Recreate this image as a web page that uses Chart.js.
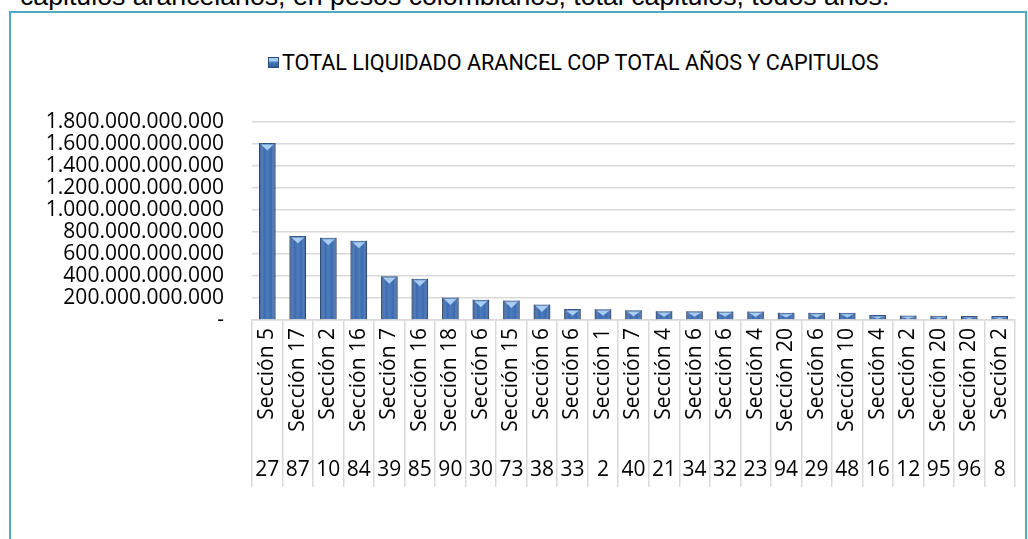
<!DOCTYPE html>
<html>
<head>
<meta charset="utf-8">
<script src="https://cdn.jsdelivr.net/npm/chart.js@4.4.1/dist/chart.umd.min.js"></script>
<style>
    html, body { margin: 0; padding: 0; background: #fff; }
    body { width: 1028px; height: 539px; overflow: hidden; position: relative; }
    #caption {
        position: absolute; left: 20px; top: -17px;
        font: 26.7px 'Liberation Sans', Arial, sans-serif; line-height: 27px;
        color: #000; white-space: nowrap;
    }
    #frame {
        position: absolute; left: 9px; top: 11px; width: 1014px; height: 600px;
        border: 2px solid #4bacc6;
    }
    #legend {
        position: absolute; left: 268px; top: 51px;
        font: 21.6px Roboto, sans-serif; line-height: 24px;
        color: #000; white-space: nowrap;
    }
    #legend .box {
        display: inline-block; width: 9px; height: 9px; margin-right: 3px;
        vertical-align: 2px; border: 1px solid #2a4d7f;
        background: linear-gradient(to bottom, #a9cdf2 0, #a9cdf2 3px, #4a7cc0 4px, #2f5d9c 100%);
    }
    #wrap { position: absolute; left: 0; top: 0; width: 1028px; height: 539px; }
</style>
</head>
<body>
<div id="caption">capitulos arancelarios, en pesos colombianos, total capitulos, todos años.</div>
<div id="frame"></div>
<div id="legend"><span class="box"></span>TOTAL LIQUIDADO ARANCEL COP TOTAL AÑOS Y CAPITULOS</div>
<div id="wrap"><canvas id="chart" width="1028" height="539"></canvas></div>
<script>
// datos
const secciones = ['Sección 5', 'Sección 17', 'Sección 2', 'Sección 16', 'Sección 7', 'Sección 16', 'Sección 18',
    'Sección 6', 'Sección 15', 'Sección 6', 'Sección 6', 'Sección 1', 'Sección 7', 'Sección 4', 'Sección 6',
    'Sección 6', 'Sección 4', 'Sección 20', 'Sección 6', 'Sección 10', 'Sección 4', 'Sección 2', 'Sección 20',
    'Sección 20', 'Sección 2'];
const capitulos = ['27', '87', '10', '84', '39', '85', '90', '30', '73', '38', '33', '2', '40', '21', '34',
    '32', '23', '94', '29', '48', '16', '12', '95', '96', '8'];
const totalLiquidado = [1609000000000, 764000000000, 748000000000, 721000000000, 397000000000, 376000000000,
    204000000000, 185000000000, 178000000000, 140000000000, 100000000000, 98000000000, 88000000000,
    80000000000, 79000000000, 78000000000, 77000000000, 67000000000, 66000000000, 65000000000,
    45000000000, 40000000000, 38000000000, 37000000000, 36000000000];

const tickFont = { family: "'Open Sans', sans-serif", size: 21 };
const gridGrey = '#d9d9d9';

function puntos(v) {
    if (v === 0) return '-';
    return String(v).replace(/\B(?=(\d{3})+(?!\d))/g, '.');
}

// brillo tipo cilindro encima de cada barra
const barShine = {
    id: 'barShine',
    afterDatasetsDraw(chart) {
        const ctx = chart.ctx;
        chart.getDatasetMeta(0).data.forEach(bar => {
            const left = bar.x - bar.width / 2;
            const right = bar.x + bar.width / 2;
            const h = bar.base - bar.y;
            const g = ctx.createLinearGradient(left, 0, right, 0);
            g.addColorStop(0, 'rgba(20,45,90,0.6)');
            g.addColorStop(0.3, 'rgba(255,255,255,0)');
            g.addColorStop(0.5, 'rgba(255,255,255,0.1)');
            g.addColorStop(0.75, 'rgba(255,255,255,0)');
            g.addColorStop(1, 'rgba(20,45,90,0.6)');
            ctx.save();
            ctx.fillStyle = g;
            ctx.fillRect(left, bar.y, bar.width, h);
            const capH = Math.min(6, h / 2);
            ctx.fillStyle = '#a9cdf2';
            ctx.beginPath();
            ctx.moveTo(left + 2, bar.y + 1.5);
            ctx.lineTo(right - 2, bar.y + 1.5);
            ctx.lineTo(bar.x, bar.y + 1.5 + capH);
            ctx.closePath();
            ctx.fill();
            ctx.restore();
        });
    }
};

new Chart(document.getElementById('chart'), {
    type: 'bar',
    data: {
        labels: secciones,
        datasets: [{
            label: 'TOTAL LIQUIDADO ARANCEL COP TOTAL AÑOS Y CAPITULOS',
            data: totalLiquidado,
            backgroundColor: '#3a6cb2',
            borderColor: '#27497a',
            borderWidth: 1,
            barPercentage: 0.54,
            categoryPercentage: 1
        }]
    },
    options: {
        responsive: false,
        devicePixelRatio: 1,
        animation: false,
        layout: { padding: { left: 0, top: 122, right: 13, bottom: 52 } },
        plugins: {
            legend: { display: false },
            tooltip: { enabled: false }
        },
        scales: {
            y: {
                min: 0,
                max: 1800000000000,
                weight: 0,
                ticks: { stepSize: 200000000000, autoSkip: false, padding: 28, color: '#000', font: tickFont, callback: puntos },
                grid: { color: gridGrey, lineWidth: 1.5, drawTicks: false },
                border: { display: false },
                afterFit: s => { s.width = 252; }
            },
            x: {
                offset: true,
                weight: 0,
                grid: { offset: true, drawOnChartArea: false, drawTicks: true, tickLength: 125, color: gridGrey, lineWidth: 1.5 },
                border: { display: true, color: gridGrey, width: 1.5 },
                ticks: { autoSkip: false, minRotation: 90, maxRotation: 90, padding: -117, color: '#000', font: tickFont },
                afterFit: s => { s.height = 125; }
            },
            x2: {
                type: 'category',
                labels: capitulos,
                position: 'bottom',
                offset: true,
                weight: 1,
                grid: { offset: true, drawOnChartArea: false, drawTicks: true, tickLength: 42, color: gridGrey, lineWidth: 1.5 },
                border: { display: false },
                ticks: { autoSkip: false, maxRotation: 0, minRotation: 0, padding: -30, color: '#000', font: tickFont },
                afterFit: s => { s.height = 42; }
            }
        }
    },
    plugins: [barShine]
});
</script>
</body>
</html>
